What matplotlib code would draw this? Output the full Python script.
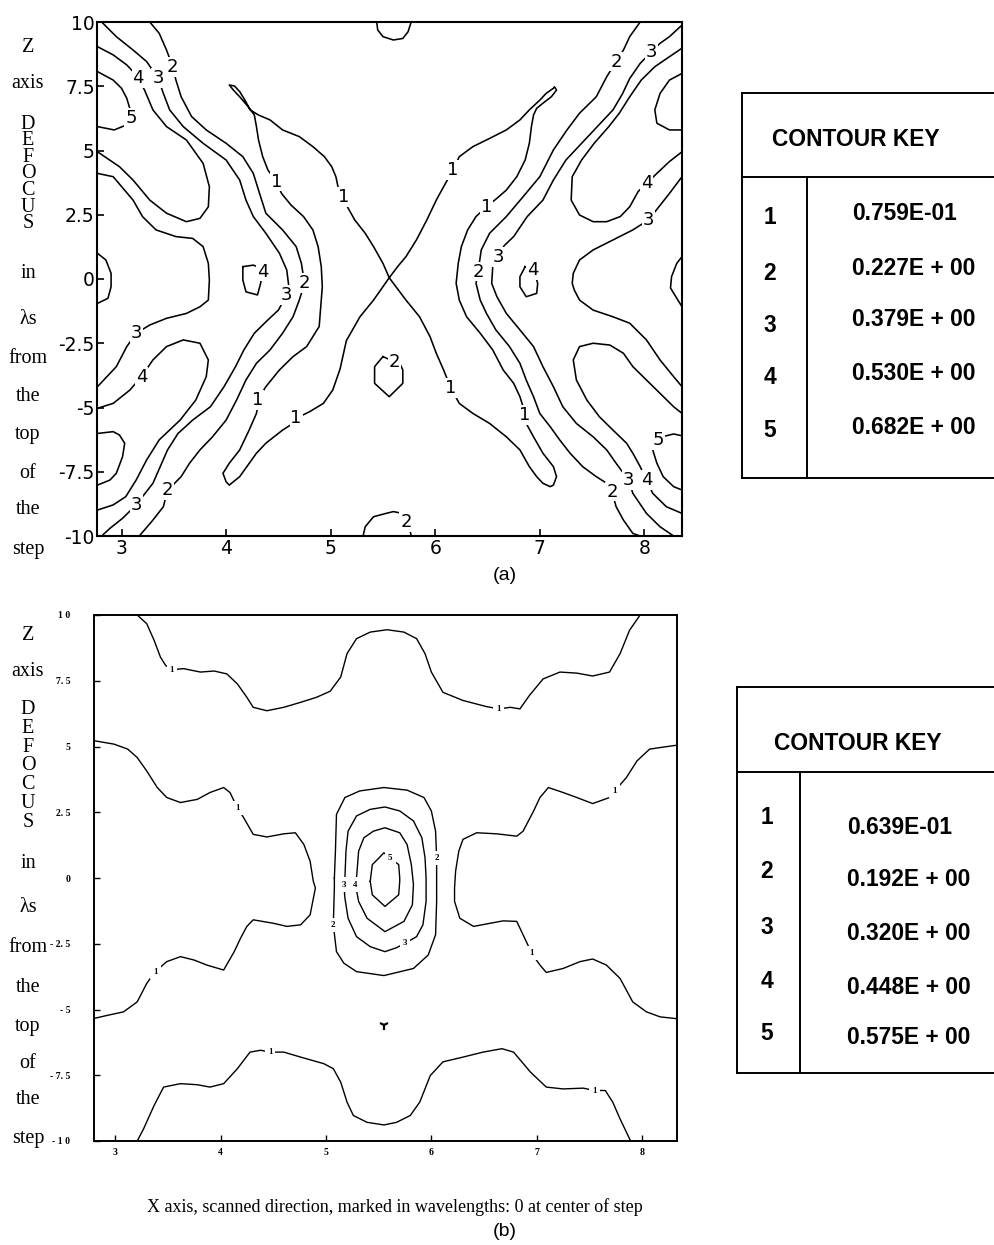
import numpy as np
import matplotlib
matplotlib.use("Agg")
import matplotlib.pyplot as plt
from matplotlib.lines import Line2D

# ====================== DATA: panel (a) ======================
A_X_RANGE = (2.77, 8.36)
A_Z_RANGE = (-10.0, 10.0)
A_XTICKS = [3, 4, 5, 6, 7, 8]
A_ZTICKS = [10, 7.5, 5, 2.5, 0, -2.5, -5, -7.5, -10]
A_ZTICK_LABELS = ["10", "7.5", "5", "2.5", "0", "-2.5", "-5", "-7.5", "-10"]
A_KEY_IDS = ["1", "2", "3", "4", "5"]
A_KEY_VALUES = ["0.759E-01", "0.227E + 00", "0.379E + 00", "0.530E + 00", "0.682E + 00"]

# contour polylines (x in wavelengths, z in lambdas)
A_C1_LEFT = [(5.56,0.05),(5.50,0.61),(5.41,1.26),(5.33,1.78),(5.23,2.30),(5.15,2.88),(5.09,3.20),(5.05,3.98),
             (5.01,4.37),(4.94,4.76),(4.83,5.15),(4.70,5.54),(4.54,5.80),(4.42,6.19),(4.31,6.38),(4.23,6.58),
             (4.18,6.96),(4.13,7.29),(4.08,7.51),(4.03,7.55),(4.07,7.35),(4.13,7.09),(4.21,6.71),(4.27,6.38),
             (4.29,5.93),(4.31,5.41),(4.35,4.76),(4.40,4.24),(4.48,3.79),(4.53,3.33),(4.62,2.88),(4.74,2.43),
             (4.83,1.91),(4.88,1.26),(4.91,0.48),(4.92,-0.30),(4.91,-0.82),(4.89,-1.85),(4.77,-2.63),(4.64,-3.02),
             (4.51,-3.54),(4.38,-4.19),(4.32,-4.58),(4.29,-5.23),(4.22,-5.88),(4.13,-6.65),(4.03,-7.17),(3.97,-7.56),
             (4.00,-7.89),(4.03,-8.02),(4.13,-7.69),(4.29,-6.78),(4.38,-6.39),(4.54,-5.88),(4.64,-5.62),(4.70,-5.36),
             (4.80,-5.16),(4.93,-4.84),(5.02,-4.32),(5.09,-3.50),(5.15,-2.40),(5.28,-1.47),(5.41,-0.82),(5.50,-0.30),
             (5.56,0.05)]
A_C1_RIGHT = [(5.56,0.05),(5.64,0.48),(5.72,0.87),(5.82,1.52),(5.92,2.30),(6.01,3.07),(6.08,3.59),(6.17,4.24),
              (6.23,4.76),(6.36,5.15),(6.52,5.47),(6.68,5.80),(6.81,6.19),(6.90,6.58),(7.00,6.96),(7.06,7.22),
              (7.13,7.42),(7.14,7.48),(7.16,7.35),(7.11,7.09),(7.03,6.84),(6.97,6.64),(6.94,6.38),(6.92,5.93),
              (6.90,5.28),(6.86,4.63),(6.78,3.98),(6.68,3.46),(6.59,3.14),(6.49,2.81),(6.39,2.43),(6.31,1.91),
              (6.25,1.26),(6.22,0.61),(6.20,-0.17),(6.23,-0.82),(6.30,-1.47),(6.43,-2.11),(6.55,-2.76),(6.65,-3.54),
              (6.75,-4.06),(6.81,-4.58),(6.86,-5.23),(6.87,-5.62),(6.94,-6.14),(7.03,-6.78),(7.13,-7.30),(7.16,-7.69),
              (7.13,-8.02),(7.10,-8.08),(7.03,-7.95),(6.97,-7.69),(6.90,-7.30),(6.81,-6.65),(6.68,-6.14),(6.52,-5.62),
              (6.36,-5.23),(6.23,-4.84),(6.15,-4.25),(6.08,-3.54),(6.01,-2.89),(5.95,-2.24),(5.85,-1.47),(5.72,-0.82),
              (5.60,-0.17),(5.56,0.05)]
A_C2_LEFT = [(3.27,10.0),(3.36,9.56),(3.43,8.91),(3.49,8.26),(3.52,7.74),(3.57,7.09),(3.67,6.32),(3.81,5.80),
             (4.00,5.28),(4.16,4.76),(4.26,4.11),(4.32,3.33),(4.38,2.56),(4.54,1.91),(4.67,1.26),(4.72,0.61),
             (4.75,-0.17),(4.70,-0.82),(4.64,-1.47),(4.54,-2.11),(4.42,-2.76),(4.29,-3.28),(4.19,-3.93),(4.10,-4.71),
             (4.00,-5.49),(3.87,-6.14),(3.75,-6.65),(3.65,-7.17),(3.57,-7.69),(3.49,-8.02),(3.44,-8.21),(3.40,-8.86),
             (3.30,-9.38),(3.17,-10.0)]
A_C3_LEFT = [(2.81,10.0),(2.95,9.43),(3.11,8.91),(3.24,8.46),(3.35,7.81),(3.40,7.22),(3.46,6.58),(3.59,5.93),
             (3.78,5.28),(4.00,4.63),(4.13,3.85),(4.19,3.07),(4.26,2.43),(4.38,1.78),(4.51,1.00),(4.58,0.35),
             (4.60,-0.30),(4.58,-0.62),(4.50,-1.21),(4.40,-1.59),(4.27,-2.11),(4.17,-2.76),(4.09,-3.41),(3.98,-4.19),
             (3.85,-4.97),(3.68,-5.49),(3.54,-6.01),(3.44,-6.65),(3.37,-7.30),(3.30,-7.95),(3.20,-8.47),(3.14,-8.79),
             (3.01,-9.31),(2.89,-9.70),(2.81,-10.0)]
A_C3_LEFT_BOW = [(2.77,4.11),(2.92,3.98),(3.11,3.07),(3.20,2.43),(3.33,1.91),(3.52,1.65),(3.68,1.58),(3.78,1.26),
                 (3.83,0.61),(3.84,-0.04),(3.83,-0.82),(3.75,-1.08),(3.62,-1.34),(3.43,-1.53),(3.27,-1.79),
                 (3.14,-2.11),(3.05,-2.63),(2.95,-3.41),(2.77,-4.19)]
A_C4_UPPER_LEFT = [(2.77,9.04),(2.92,8.72),(3.05,8.33),(3.11,8.07),(3.16,7.81),(3.22,7.35),(3.30,6.58),(3.43,5.93),
                   (3.62,5.41),(3.78,4.50),(3.84,3.59),(3.83,2.81),(3.75,2.36),(3.62,2.23),(3.43,2.56),(3.27,3.07),
                   (3.11,3.85),(2.98,4.37),(2.77,4.95)]
A_C4_LOWER_LEFT = [(2.77,-5.03),(2.92,-4.84),(3.08,-4.32),(3.19,-3.80),(3.30,-3.15),(3.43,-2.63),(3.59,-2.37),
                   (3.75,-2.50),(3.83,-3.15),(3.81,-3.80),(3.71,-4.71),(3.56,-5.49),(3.36,-6.26),(3.24,-7.04),
                   (3.14,-7.82),(3.04,-8.47),(2.92,-8.79),(2.77,-8.99)]
A_C5_UPPER_LEFT = [(2.77,8.07),(2.92,7.74),(3.00,7.42),(3.05,7.03),(3.08,6.62),(3.09,6.25),(3.05,6.00),(2.93,5.80),
                   (2.77,5.93)]
A_C5_LOWER_LEFT = [(2.77,-6.01),(2.92,-5.94),(2.98,-6.07),(3.03,-6.39),(3.01,-6.91),(2.95,-7.56),(2.89,-7.82),
                   (2.77,-8.02)]
A_EDGE_LOOP_LEFT = [(2.77,1.00),(2.85,0.74),(2.90,0.22),(2.90,-0.30),(2.87,-0.75),(2.77,-0.95)]
A_C4_ISLAND_LEFT = [(4.16,0.48),(4.26,0.54),(4.32,0.45),(4.35,0.29),(4.33,-0.17),(4.30,-0.62),(4.19,-0.50),
                    (4.16,-0.04),(4.16,0.48)]
A_C4_ISLAND_RIGHT = [(6.86,0.48),(6.81,0.09),(6.81,-0.30),(6.87,-0.69),(6.97,-0.56),(6.98,-0.17),(6.94,0.35),
                     (6.86,0.48)]
A_C2_TOP = [(5.44,10.0),(5.45,9.69),(5.50,9.43),(5.60,9.30),(5.69,9.36),(5.74,9.62),(5.77,10.0)]
A_C2_BOTTOM = [(5.31,-10.0),(5.33,-9.64),(5.41,-9.25),(5.53,-9.12),(5.60,-9.05),(5.66,-9.10),(5.72,-9.45),
               (5.76,-9.80),(5.77,-10.0)]
A_C2_CENTER = [(5.50,-3.02),(5.42,-3.41),(5.42,-4.06),(5.56,-4.58),(5.69,-4.06),(5.69,-3.54),(5.66,-3.28),
               (5.61,-3.22),(5.50,-3.02)]
A_C2_RIGHT = [(7.96,10.0),(7.86,9.43),(7.80,8.91),(7.73,8.46),(7.64,7.87),(7.54,7.09),(7.38,6.45),(7.26,5.80),
              (7.13,5.02),(7.00,3.98),(6.84,3.20),(6.68,2.43),(6.52,1.78),(6.44,1.13),(6.41,0.29),(6.39,-0.17),
              (6.43,-0.82),(6.49,-1.34),(6.58,-1.98),(6.71,-2.63),(6.81,-3.28),(6.87,-3.93),(6.94,-4.58),(7.00,-5.23),
              (7.10,-5.75),(7.19,-6.26),(7.29,-6.78),(7.41,-7.30),(7.54,-7.69),(7.64,-7.95),(7.69,-8.27),(7.73,-8.86),
              (7.80,-9.38),(7.89,-9.90),(7.96,-10.0)]
A_C3_RIGHT = [(8.36,9.88),(8.24,9.43),(8.15,9.17),(8.07,8.85),(7.96,8.39),(7.86,7.80),(7.79,7.20),(7.70,6.58),
              (7.55,5.93),(7.40,5.28),(7.25,4.63),(7.13,3.85),(7.03,3.07),(6.88,2.43),(6.75,1.65),(6.66,1.30),
              (6.60,0.87),(6.55,0.48),(6.54,-0.17),(6.59,-0.69),(6.68,-1.34),(6.81,-1.98),(6.94,-2.63),(7.03,-3.41),
              (7.13,-4.19),(7.22,-4.97),(7.35,-5.62),(7.51,-6.14),(7.64,-6.65),(7.73,-7.17),(7.80,-7.56),(7.85,-7.82),
              (7.89,-8.34),(8.02,-9.12),(8.15,-9.64),(8.28,-10.0)]
A_C3_RIGHT_BOW = [(8.36,3.98),(8.24,3.33),(8.04,2.30),(7.89,1.91),(7.70,1.52),(7.51,1.13),(7.38,0.74),(7.32,0.22),
                  (7.31,-0.17),(7.33,-0.43),(7.38,-0.82),(7.51,-1.21),(7.70,-1.47),(7.86,-1.72),(8.02,-2.37),
                  (8.15,-3.15),(8.28,-3.80),(8.36,-4.19)]
A_C4_UPPER_RIGHT = [(8.36,8.98),(8.24,8.65),(8.10,8.26),(7.97,7.74),(7.86,7.09),(7.76,6.45),(7.66,5.93),(7.52,5.28),
                    (7.40,4.63),(7.31,3.98),(7.30,3.07),(7.38,2.49),(7.51,2.23),(7.64,2.23),(7.77,2.43),(7.86,2.81),
                    (7.94,3.40),(8.02,3.72),(8.12,4.11),(8.24,4.57),(8.36,4.95)]
A_C4_LOWER_RIGHT = [(8.36,-5.23),(8.28,-4.97),(8.15,-4.45),(8.02,-3.93),(7.89,-3.41),(7.80,-2.89),(7.67,-2.57),
                    (7.51,-2.50),(7.38,-2.63),(7.32,-3.15),(7.35,-3.93),(7.45,-4.71),(7.57,-5.36),(7.70,-5.88),
                    (7.83,-6.39),(7.89,-6.78),(7.96,-7.30),(8.02,-7.82),(8.08,-8.34),(8.21,-8.86),(8.36,-9.12)]
A_C5_UPPER_RIGHT = [(8.36,8.00),(8.24,7.74),(8.15,7.22),(8.10,6.58),(8.12,6.06),(8.24,5.80),(8.36,5.80)]
A_C5_LOWER_RIGHT = [(8.36,-6.10),(8.28,-6.03),(8.16,-6.15),(8.09,-6.45),(8.08,-6.65),(8.12,-7.17),(8.18,-7.69),
                    (8.28,-8.08),(8.36,-8.21)]
A_EDGE_LOOP_RIGHT = [(8.36,0.87),(8.31,0.61),(8.26,0.09),(8.25,-0.35),(8.31,-0.75),(8.36,-1.08)]

A_LABEL_TEXT = ["5","4","3","2","1","1","1","1","2","3","4","3","4","3","2","2","3","4",
                "3","4","1","1","2","1","1","5","3","2","2","3","4","2"]
A_LABEL_X = [3.09,3.16,3.35,3.49,4.48,5.12,6.17,6.49,7.73,8.07,8.02,8.04,4.35,4.58,4.75,6.41,6.60,6.93,
             3.14,3.19,4.30,4.67,5.61,6.15,6.86,8.13,3.14,3.44,7.69,7.85,8.02,5.72]
A_LABEL_Z = [6.25,7.81,7.81,8.26,3.79,3.20,4.24,2.81,8.46,8.85,3.72,2.30,0.29,-0.62,-0.17,0.29,0.87,0.35,
             -2.11,-3.80,-4.71,-5.42,-3.22,-4.25,-5.29,-6.26,-8.79,-8.21,-8.27,-7.82,-7.82,-9.45]

# ====================== DATA: panel (b) ======================
B_X_RANGE = (2.80, 8.33)
B_Z_RANGE = (-10.0, 10.0)
B_XTICKS = [3, 4, 5, 6, 7, 8]
B_ZTICKS = [10, 7.5, 5, 2.5, 0, -2.5, -5, -7.5, -10]
B_ZTICK_LABELS = ["1 0", "7. 5", "5", "2. 5", "0", "- 2. 5", "- 5", "- 7. 5", "- 1 0"]
B_KEY_IDS = ["1", "2", "3", "4", "5"]
B_KEY_VALUES = ["0.639E-01", "0.192E + 00", "0.320E + 00", "0.448E + 00", "0.575E + 00"]

B_C1_TOP = [(3.21,10.0),(3.30,9.67),(3.37,9.04),(3.43,8.40),(3.48,8.08),(3.54,7.92),(3.65,7.96),(3.81,7.83),
            (3.94,7.87),(4.06,7.76),(4.16,7.38),(4.25,6.87),(4.31,6.49),(4.44,6.36),(4.60,6.49),(4.76,6.68),
            (4.91,6.87),(5.04,7.10),(5.14,7.64),(5.20,8.53),(5.29,9.10),(5.42,9.35),(5.58,9.44),(5.74,9.35),
            (5.86,9.10),(5.94,8.53),(6.00,7.83),(6.11,7.06),(6.30,6.75),(6.52,6.52),(6.64,6.43),(6.75,6.49),
            (6.84,6.43),(6.93,6.94),(7.06,7.57),(7.22,7.83),(7.38,7.79),(7.53,7.68),(7.69,7.83),(7.79,8.53),
            (7.88,9.42),(7.98,10.0)]
B_C1_LEFT = [(2.80,5.22),(2.99,5.09),(3.12,4.90),(3.21,4.58),(3.30,4.07),(3.40,3.44),(3.49,3.06),(3.62,2.87),
             (3.78,2.99),(3.90,3.25),(4.03,3.44),(4.09,3.25),(4.16,2.67),(4.22,2.29),(4.31,1.66),(4.44,1.56),
             (4.60,1.68),(4.71,1.72),(4.79,1.28),(4.85,0.64),(4.88,-0.12),(4.90,-0.38),(4.85,-1.40),(4.76,-1.78),
             (4.63,-1.84),(4.50,-1.72),(4.31,-1.59),(4.25,-1.84),(4.19,-2.29),(4.13,-2.80),(4.03,-3.50),(3.87,-3.31),
             (3.75,-3.12),(3.62,-2.99),(3.49,-3.18),(3.38,-3.56),(3.30,-4.01),(3.21,-4.71),(3.08,-5.09),(2.93,-5.22),
             (2.80,-5.34)]
B_C1_RIGHT = [(8.33,5.05),(8.17,4.96),(8.07,4.90),(7.95,4.45),(7.85,3.82),(7.74,3.31),(7.69,3.06),(7.53,2.83),
              (7.38,3.06),(7.25,3.25),(7.11,3.44),(7.03,3.06),(6.97,2.55),(6.87,1.78),(6.81,1.59),(6.62,1.68),
              (6.43,1.72),(6.30,1.47),(6.26,1.02),(6.23,0.26),(6.22,-0.38),(6.22,-0.89),(6.27,-1.53),(6.40,-1.84),
              (6.56,-1.72),(6.68,-1.63),(6.81,-1.65),(6.87,-2.16),(6.93,-2.67),(6.95,-2.86),(7.03,-3.31),(7.09,-3.59),
              (7.25,-3.44),(7.41,-3.18),(7.53,-3.08),(7.66,-3.31),(7.79,-3.82),(7.91,-4.71),(8.04,-5.09),(8.17,-5.28),
              (8.33,-5.35)]
B_C1_BOTTOM = [(3.21,-10.0),(3.27,-9.54),(3.37,-8.65),(3.46,-7.95),(3.62,-7.82),(3.78,-7.86),(3.90,-7.95),
               (4.03,-7.82),(4.16,-7.25),(4.28,-6.62),(4.38,-6.55),(4.47,-6.62),(4.60,-6.62),(4.76,-6.81),
               (4.98,-7.06),(5.07,-7.25),(5.14,-7.76),(5.20,-8.52),(5.26,-9.03),(5.39,-9.29),(5.55,-9.39),
               (5.67,-9.29),(5.80,-9.03),(5.89,-8.52),(5.99,-7.51),(6.11,-6.99),(6.30,-6.81),(6.49,-6.62),
               (6.67,-6.49),(6.78,-6.62),(6.94,-7.38),(7.09,-7.95),(7.25,-8.02),(7.44,-7.99),(7.55,-8.08),
               (7.65,-8.08),(7.72,-8.52),(7.79,-9.16),(7.89,-10.0)]
B_C2_OVAL = [(5.08,0.0),(5.09,1.02),(5.10,2.42),(5.18,3.06),(5.32,3.31),(5.55,3.44),(5.77,3.34),(5.93,3.06),
             (6.00,2.55),(6.04,1.78),(6.05,0.77),(6.05,-0.89),(6.04,-2.16),(5.97,-2.93),(5.83,-3.44),(5.55,-3.71),
             (5.29,-3.56),(5.17,-3.24),(5.10,-2.80),(5.07,-1.78),(5.08,-0.38),(5.08,0.0)]
B_C3_OVAL = [(5.18,0.0),(5.19,1.02),(5.21,1.78),(5.29,2.36),(5.42,2.61),(5.56,2.70),(5.70,2.55),(5.83,2.17),
             (5.91,1.53),(5.94,0.77),(5.95,0.0),(5.95,-0.89),(5.92,-1.78),(5.86,-2.23),(5.75,-2.48),(5.67,-2.65),
             (5.56,-2.80),(5.42,-2.61),(5.29,-2.23),(5.21,-1.53),(5.18,-0.76),(5.17,-0.25),(5.18,0.0)]
B_C4_OVAL = [(5.29,0.0),(5.31,1.02),(5.36,1.53),(5.45,1.78),(5.56,1.91),(5.70,1.72),(5.77,1.27),(5.81,0.51),
             (5.83,-0.25),(5.82,-1.02),(5.74,-1.65),(5.56,-2.04),(5.39,-1.53),(5.31,-0.89),(5.28,-0.25),(5.29,0.0)]
B_C5_OVAL = [(5.42,-0.13),(5.44,0.51),(5.50,0.75),(5.55,0.96),(5.61,0.75),(5.69,0.51),(5.70,0.0),(5.70,-0.13),
             (5.69,-0.64),(5.56,-1.08),(5.44,-0.64),(5.42,-0.13)]
B_MARK_X = [5.55]
B_MARK_Z = [-5.60]

B_LABEL_TEXT = ["1","1","1","1","1","1","1","1","2","2","3","4","5","3"]
B_LABEL_X = [3.54,6.64,4.16,7.74,3.38,6.95,4.47,7.55,6.05,5.07,5.17,5.28,5.61,5.75]
B_LABEL_Z = [7.92,6.43,2.67,3.31,-3.56,-2.86,-6.62,-8.08,0.77,-1.78,-0.25,-0.25,0.75,-2.48]

SIDE_WORDS = ["Z", "axis", "DEFOCUS", "in", "λs", "from", "the", "top", "of", "the", "step"]
CAPTION = "X axis, scanned direction, marked in wavelengths: 0 at center of step"

# ====================== FIGURE ======================
W, H = 995, 1245
fig = plt.figure(figsize=(W / 100, H / 100), dpi=100)
fig.patch.set_facecolor("white")


def fx(px):
    return px / W


def fy(py):
    return 1 - py / H


def draw_lines(ax, lines, lw):
    for ln in lines:
        xs, zs = zip(*ln)
        ax.plot(xs, zs, color="black", lw=lw, solid_joinstyle="round", zorder=2)


# ---------- panel (a) ----------
axA = fig.add_axes([fx(97.5), fy(536), fx(682) - fx(97.5), fy(22) - fy(536)])
axA.set_xlim(*A_X_RANGE)
axA.set_ylim(*A_Z_RANGE)
draw_lines(axA, [A_C1_LEFT, A_C1_RIGHT, A_C2_LEFT, A_C3_LEFT, A_C3_LEFT_BOW, A_C4_UPPER_LEFT,
                 A_C4_LOWER_LEFT, A_C5_UPPER_LEFT, A_C5_LOWER_LEFT, A_EDGE_LOOP_LEFT, A_C4_ISLAND_LEFT,
                 A_C4_ISLAND_RIGHT, A_C2_TOP, A_C2_BOTTOM, A_C2_CENTER, A_C2_RIGHT, A_C3_RIGHT,
                 A_C3_RIGHT_BOW, A_C4_UPPER_RIGHT, A_C4_LOWER_RIGHT, A_C5_UPPER_RIGHT, A_C5_LOWER_RIGHT,
                 A_EDGE_LOOP_RIGHT], lw=1.15)
for t, x, z in zip(A_LABEL_TEXT, A_LABEL_X, A_LABEL_Z):
    axA.text(x, z, t, ha="center", va="center", fontsize=13, family="DejaVu Sans", zorder=3,
             bbox=dict(boxstyle="square,pad=0.05", fc="white", ec="none"))
axA.set_xticks(A_XTICKS)
axA.set_xticklabels([str(v) for v in A_XTICKS])
axA.set_yticks(A_ZTICKS)
axA.set_yticklabels(A_ZTICK_LABELS)
axA.tick_params(direction="in", length=5, width=1.2, labelsize=13.5, pad=2)
for lab in axA.get_xticklabels() + axA.get_yticklabels():
    lab.set_family("DejaVu Sans")
for sp in axA.spines.values():
    sp.set_linewidth(1.5)

# ---------- panel (b) ----------
axB = fig.add_axes([fx(94), fy(1141), fx(677) - fx(94), fy(615) - fy(1141)])
axB.set_xlim(*B_X_RANGE)
axB.set_ylim(*B_Z_RANGE)
draw_lines(axB, [B_C1_TOP, B_C1_LEFT, B_C1_RIGHT, B_C1_BOTTOM, B_C2_OVAL, B_C3_OVAL, B_C4_OVAL, B_C5_OVAL],
           lw=1.0)
axB.plot(B_MARK_X, B_MARK_Z, linestyle="none", marker="1", ms=7, mew=1.6, color="black", zorder=3)
for t, x, z in zip(B_LABEL_TEXT, B_LABEL_X, B_LABEL_Z):
    axB.text(x, z, t, ha="center", va="center", fontsize=6.5, family="Liberation Serif",
             fontweight="bold", zorder=3, bbox=dict(boxstyle="square,pad=0.35", fc="white", ec="none"))
axB.set_xticks(B_XTICKS)
axB.set_xticklabels([str(v) for v in B_XTICKS])
axB.set_yticks(B_ZTICKS)
axB.set_yticklabels(B_ZTICK_LABELS)
axB.tick_params(axis="y", direction="in", length=4, width=1.0, labelsize=7, pad=17)
axB.tick_params(axis="x", direction="in", length=4, width=1.0, labelsize=7, pad=5)
for lab in axB.get_xticklabels() + axB.get_yticklabels():
    lab.set_family("Liberation Serif")
    lab.set_fontweight("bold")
for sp in axB.spines.values():
    sp.set_linewidth(1.4)

# ---------- side words (DEFOCUS stacked vertically as one text) ----------
top_y = [47, 84, 174, 273, 320, 358, 397, 435, 473, 510, 550]
bot_y = [635, 672, 766, 863, 907, 948, 987, 1026, 1063, 1100, 1138]
for words_y, ls in ((top_y, 0.83), (bot_y, 0.98)):
    for w, yy in zip(SIDE_WORDS, words_y):
        s = "\n".join(w) if w == "DEFOCUS" else w
        fig.text(fx(28), fy(yy), s, ha="center", va="center", ma="center", fontsize=14.5,
                 family="Liberation Serif", linespacing=ls)

# ---------- contour key tables ----------
def key_table(left, top, header, bottom, divider, title_xy, id_x, id_ys, val_x, val_ys, ids, vals):
    lw = 1.4
    segs = [((left, top), (W + 5, top)), ((left, header), (W + 5, header)), ((left, bottom), (W + 5, bottom)),
            ((left, top), (left, bottom)), ((divider, header), (divider, bottom))]
    for (x0, y0), (x1, y1) in segs:
        fig.add_artist(Line2D([fx(x0), fx(x1)], [fy(y0), fy(y1)], transform=fig.transFigure,
                              color="black", lw=lw))
    fig.text(fx(title_xy[0]), fy(title_xy[1]), "CONTOUR KEY", ha="center", va="center",
             fontsize=16.4, fontweight="bold", family="Liberation Sans")
    for t, yy in zip(ids, id_ys):
        fig.text(fx(id_x), fy(yy), t, ha="center", va="center", fontsize=16.4, fontweight="bold",
                 family="Liberation Sans")
    for t, yy in zip(vals, val_ys):
        fig.text(fx(val_x), fy(yy), t, ha="left", va="center", fontsize=16.4, fontweight="bold",
                 family="Liberation Sans")


key_table(742, 93, 177, 478, 807, (856, 140), 770, [218, 273, 325, 378, 430],
          852, [213, 268, 320, 373, 427], A_KEY_IDS, A_KEY_VALUES)
key_table(737, 687, 772, 1073, 800, (858, 743), 767, [817, 872, 927, 982, 1033],
          847, [827, 880, 933, 987, 1038], B_KEY_IDS, B_KEY_VALUES)

# ---------- captions ----------
fig.text(fx(505), fy(575), "(a)", ha="center", va="center", fontsize=14, family="Liberation Sans")
fig.text(fx(395), fy(1207), CAPTION, ha="center", va="center", fontsize=13, family="Liberation Serif")
fig.text(fx(505), fy(1232), "(b)", ha="center", va="center", fontsize=14, family="Liberation Sans")

fig.savefig("out.png", dpi=100, facecolor="white")
